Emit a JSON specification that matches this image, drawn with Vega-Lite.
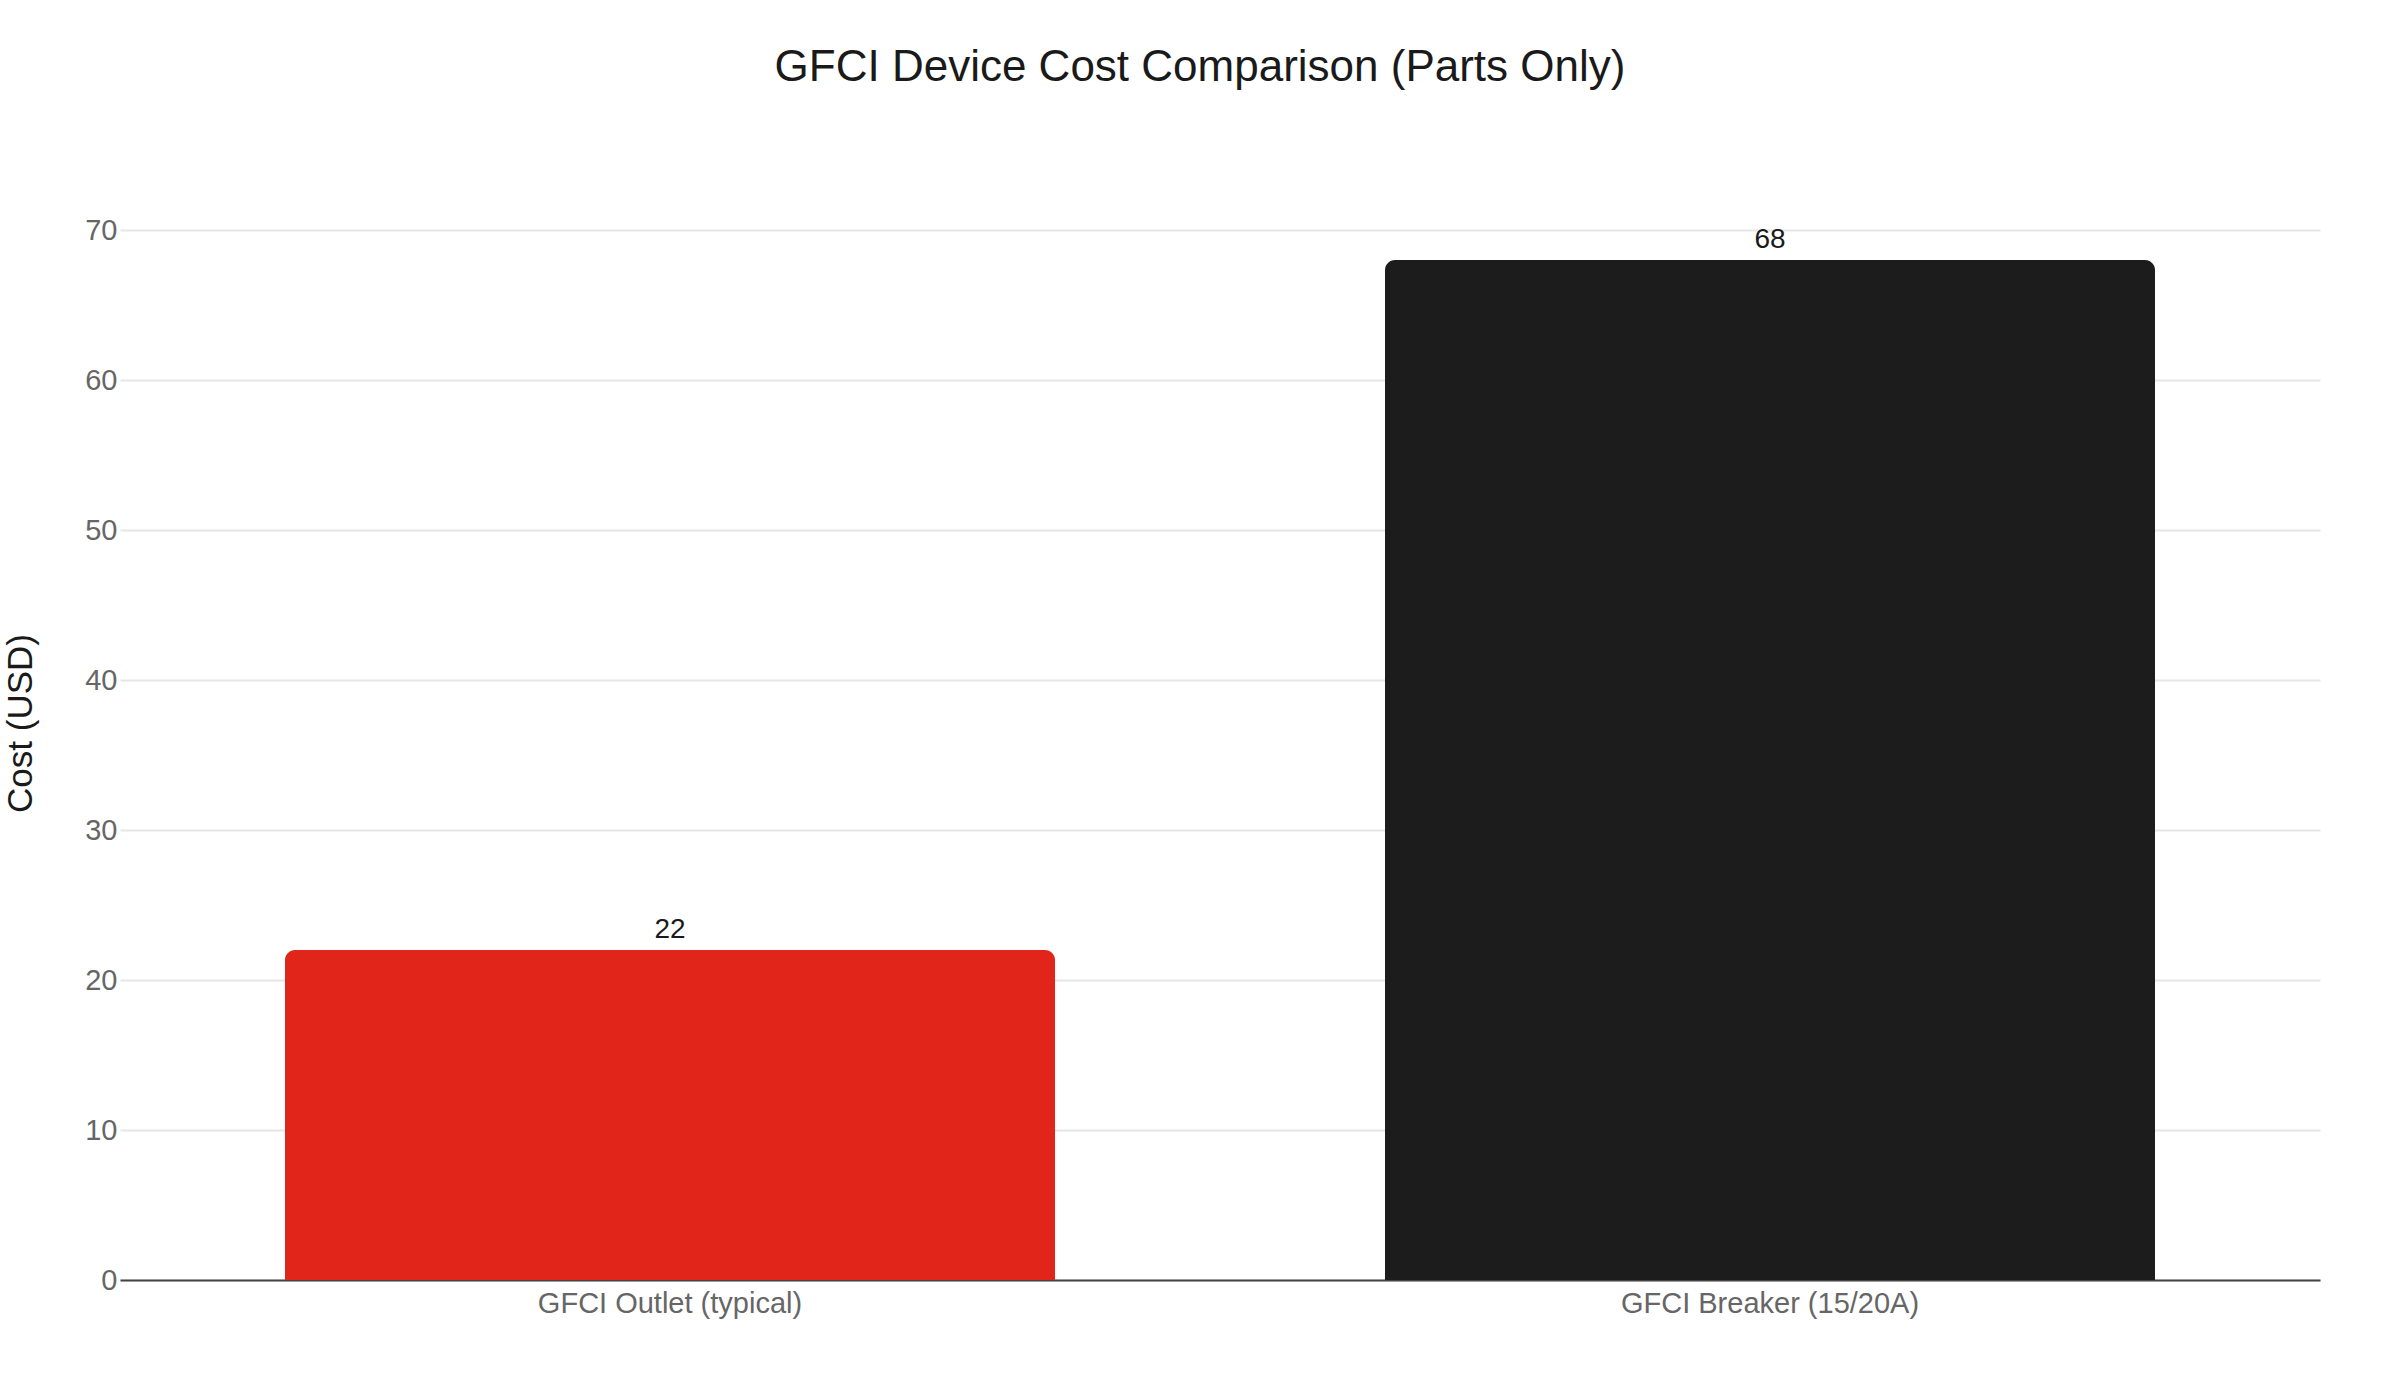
{
  "$schema": "https://vega.github.io/schema/vega-lite/v6.json",
  "autosize": {"type": "none"},
  "width": 2200,
  "height": 1114,
  "padding": {"left": 120, "top": 166, "right": 80, "bottom": 120},
  "background": "white",
  "config": {
    "view": {"stroke": null},
    "font": "Liberation Sans"
  },
  "title": {
    "text": "GFCI Device Cost Comparison (Parts Only)",
    "fontSize": 44,
    "fontWeight": "normal",
    "color": "#1a1a1a",
    "font": "Liberation Sans",
    "anchor": "middle",
    "offset": 76,
    "dx": -20
  },
  "data": {
    "values": [
      {"device": "GFCI Outlet (typical)", "cost": 22},
      {"device": "GFCI Breaker (15/20A)", "cost": 68}
    ]
  },
  "encoding": {
    "x": {
      "field": "device",
      "type": "nominal",
      "sort": null,
      "scale": {"paddingInner": 0.3, "paddingOuter": 0.15},
      "axis": {
        "title": null,
        "labelAngle": 0,
        "labelFontSize": 29,
        "labelColor": "#666666",
        "labelPadding": 9,
        "labelLimit": 0,
        "ticks": false,
        "tickSize": 0,
        "domainColor": "#444444",
        "domainWidth": 2,
        "grid": false
      }
    },
    "y": {
      "field": "cost",
      "type": "quantitative",
      "scale": {"domain": [0, 74.27], "nice": false},
      "axis": {
        "title": "Cost (USD)",
        "titleFontSize": 35,
        "titleFontWeight": "normal",
        "titleColor": "#1a1a1a",
        "titlePadding": 46,
        "values": [0, 10, 20, 30, 40, 50, 60, 70],
        "labelFontSize": 29,
        "labelColor": "#666666",
        "labelPadding": 3,
        "ticks": false,
        "tickSize": 0,
        "domain": false,
        "gridColor": "#e6e6e6",
        "gridWidth": 2
      }
    }
  },
  "layer": [
    {
      "mark": {"type": "bar", "cornerRadiusTopLeft": 10, "cornerRadiusTopRight": 10},
      "encoding": {
        "color": {
          "field": "device",
          "type": "nominal",
          "scale": {"domain": ["GFCI Outlet (typical)", "GFCI Breaker (15/20A)"], "range": ["#e1251b", "#1c1c1c"]},
          "legend": null
        }
      }
    },
    {
      "mark": {"type": "text", "baseline": "alphabetic", "dy": -12, "fontSize": 28, "color": "#1a1a1a"},
      "encoding": {
        "text": {"field": "cost", "type": "quantitative"}
      }
    }
  ]
}
